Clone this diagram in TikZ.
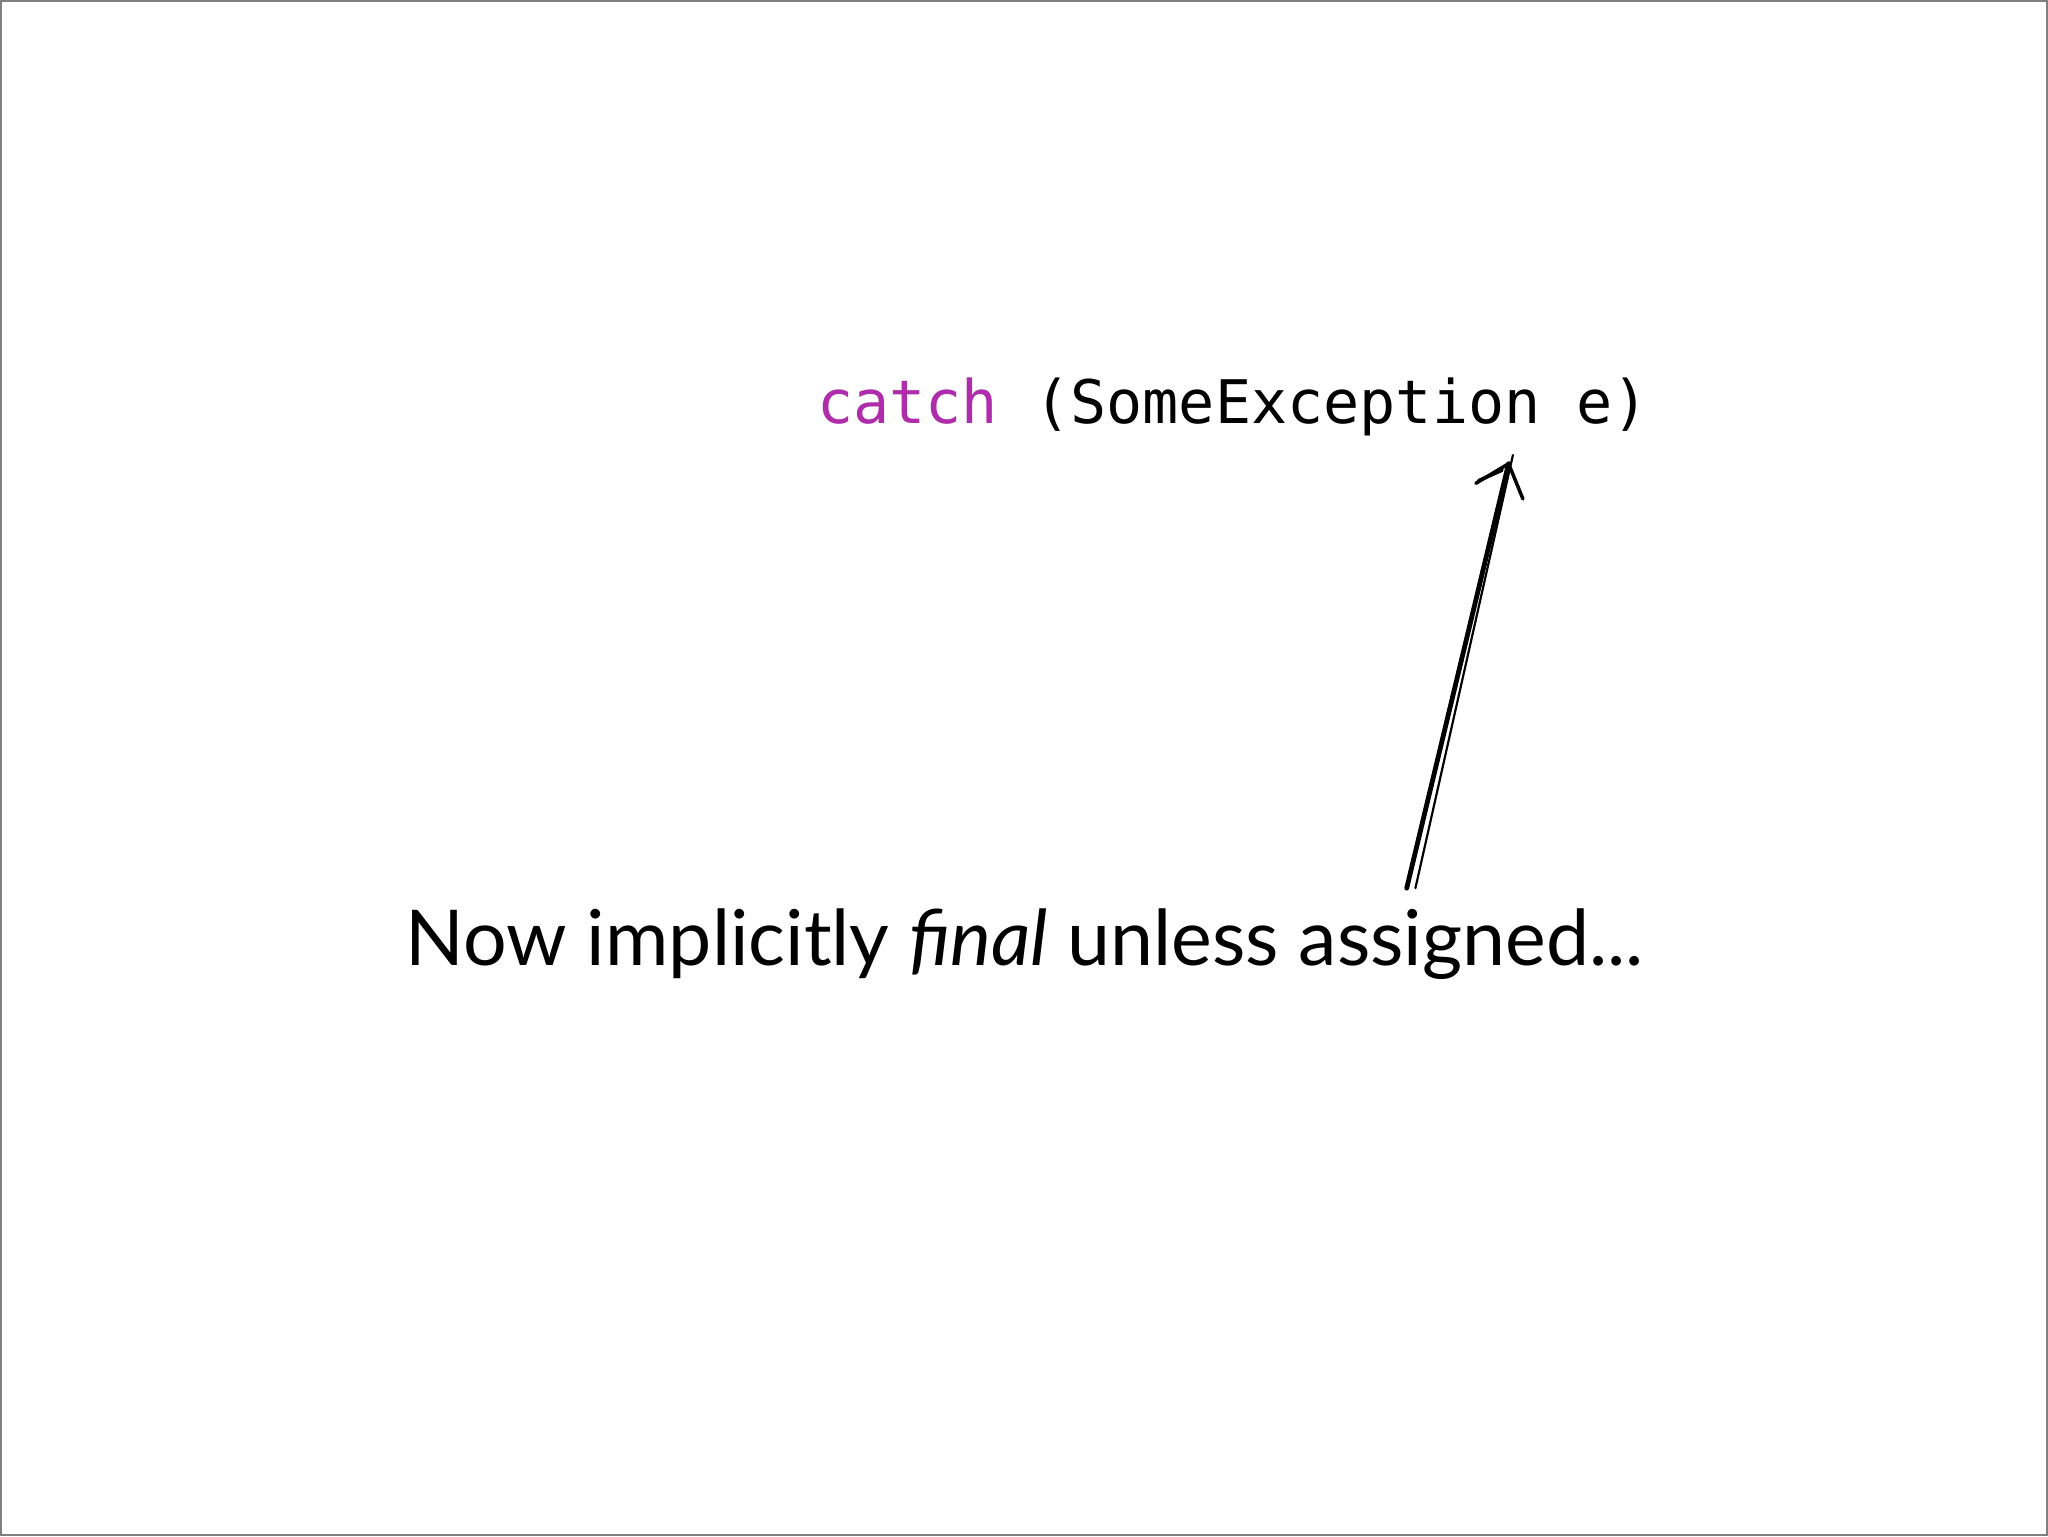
\documentclass[tikz,border=0pt]{standalone}
\usepackage{fontspec}
\setmainfont{Lato}
\setmonofont{DejaVu Sans Mono}
\definecolor{kw}{RGB}{175,45,170}
\begin{document}
\begin{tikzpicture}[x=0.3pt,y=-0.3pt,
  txt/.style={inner sep=0pt,anchor=base west},
  pen/.style={line width=0.8pt,line cap=round}]
\useasboundingbox (0,0) rectangle (1568,1176);
\draw[gray,line width=0.5pt] (0.5,0.5) rectangle (1567.5,1175.5);
\node[txt,font=\fontsize{13.8}{16}\ttfamily] (code) at (625,324) {\textcolor{kw}{catch} (SomeException e)};
\node[txt,font=\fontsize{17.7}{21}\selectfont] (note) at (310,739) {Now implicitly \textit{final} unless assigned...};
\coordinate (tail) at (1077,680);
\coordinate (tip) at (1155,355);
\draw[pen,line width=1.1pt] (tail) -- (tip);
\draw[pen,line width=0.5pt] ([xshift=2]tail) -- ([xshift=1,yshift=2]tip);
\draw[pen] (tip) -- (1130,370);
\draw[pen] (tip) -- (1166,382);
\draw[pen] (1150,360) -- (1132,368);
\end{tikzpicture}
\end{document}
